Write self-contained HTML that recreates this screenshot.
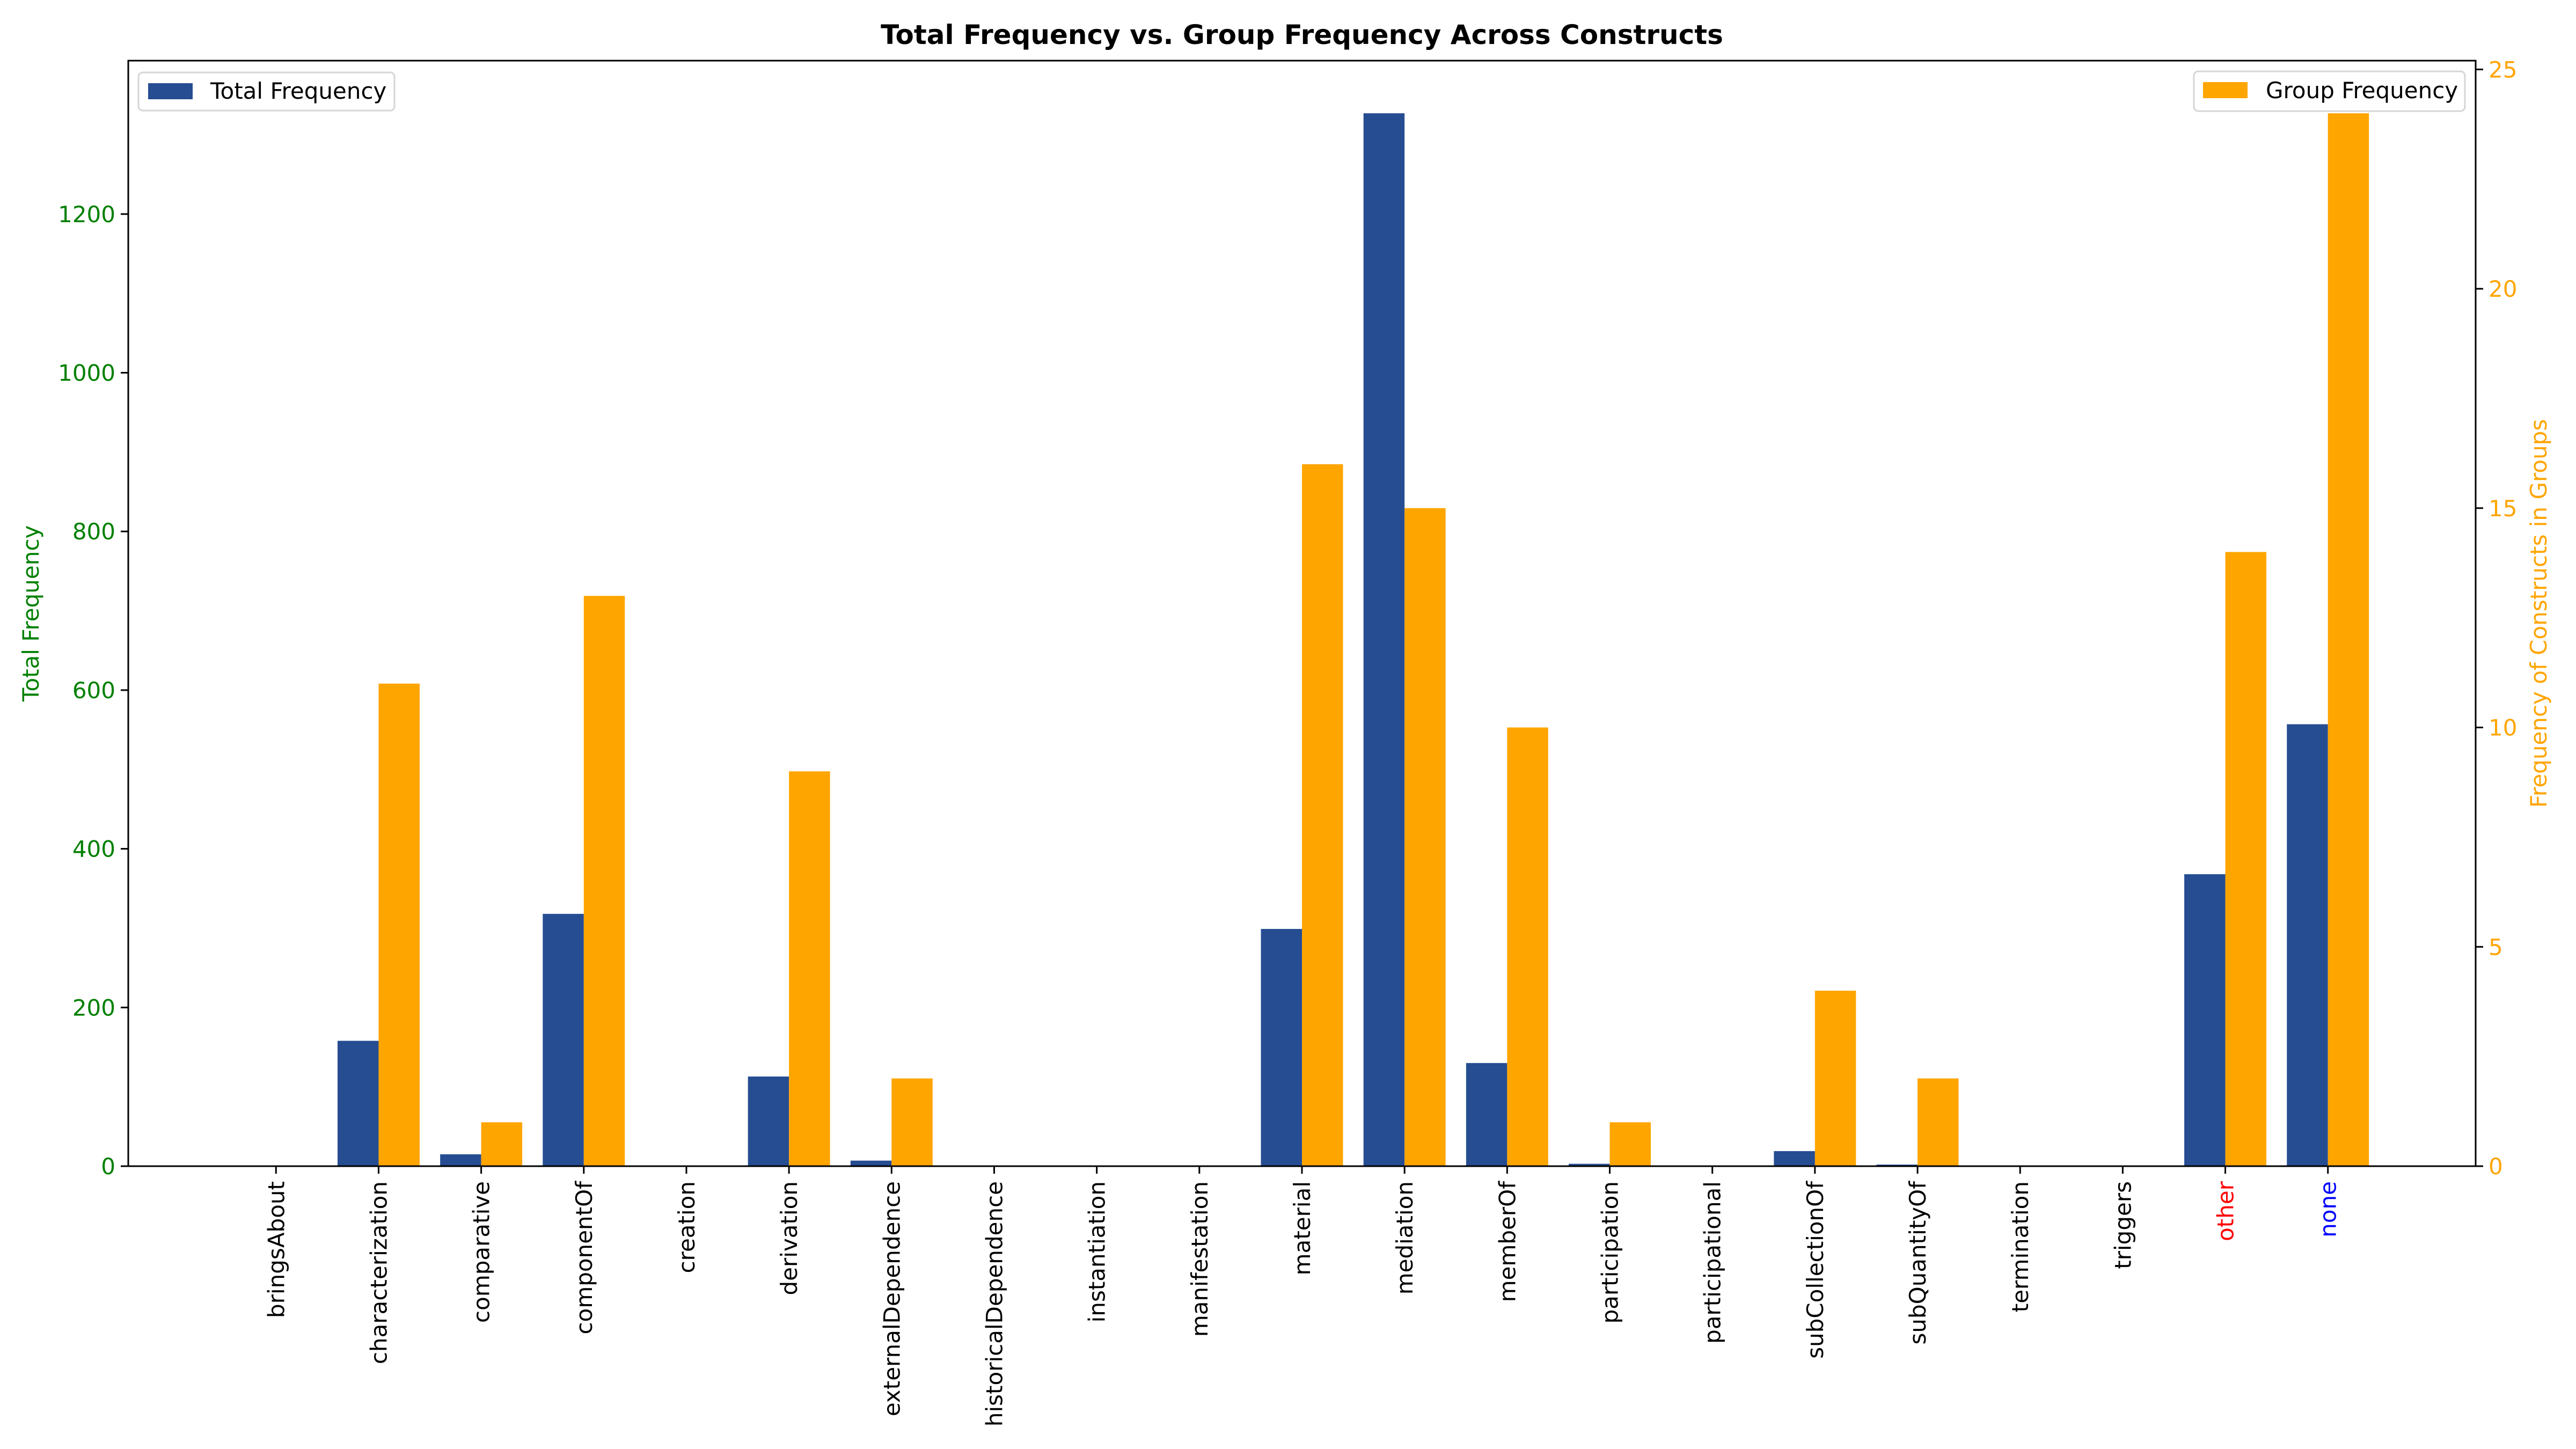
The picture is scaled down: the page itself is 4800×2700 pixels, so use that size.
<!DOCTYPE html>
<html><head><meta charset="utf-8"><style>
html,body{margin:0;padding:0;background:#fff;}
svg{display:block;font-family:"DejaVu Sans","Liberation Sans",sans-serif;}
</style></head><body>
<svg id="chart" width="4800" height="2700" viewBox="0 0 4800 2700" xmlns="http://www.w3.org/2000/svg">
<rect x="0" y="0" width="4800" height="2700" fill="#fff"/>
<text x="2426" y="82" text-anchor="middle" font-size="50" font-weight="bold">Total Frequency vs. Group Frequency Across Constructs</text>
<g id="plot"></g>
</svg>
<script>
const categories = ["bringsAbout","characterization","comparative","componentOf","creation","derivation","externalDependence","historicalDependence","instantiation","manifestation","material","mediation","memberOf","participation","participational","subCollectionOf","subQuantityOf","termination","triggers","other","none"];
const totalFreq = [0,158,15,318,0,113,7,0,0,0,299,1327,130,3,0,19,2,0,0,368,557];
const groupFreq = [0,11,1,13,0,9,2,0,0,0,16,15,10,1,0,4,2,0,0,14,24];
const leftTicks = [0,200,400,600,800,1000,1200];
const rightTicks = [0,5,10,15,20,25];
const labelColors = {other:"#ff0000", none:"#0000ff"};

const NS="http://www.w3.org/2000/svg";
const L=239,R=4613,T=113,B=2173;
const FS=42;
const xmin=-1.44,xmax=categories.length-1+1.44;
const yLmax=1393.35, yRmax=25.2;
function xs(v){return L+(v-xmin)/(xmax-xmin)*(R-L);}
function yl(v){return B-v/yLmax*(B-T);}
function yr(v){return B-v/yRmax*(B-T);}
const g=document.getElementById('plot');
function mk(tag,attrs,parent){const e=document.createElementNS(NS,tag);for(const k in attrs)e.setAttribute(k,attrs[k]);(parent||g).appendChild(e);return e;}

const w=0.4;
categories.forEach((c,i)=>{
  const b=mk('rect',{x:xs(i-w),y:yl(totalFreq[i]),width:xs(i)-xs(i-w),height:B-yl(totalFreq[i]),fill:'#264d92'});
  
  
  const o=mk('rect',{x:xs(i),y:yr(groupFreq[i]),width:xs(i+w)-xs(i),height:B-yr(groupFreq[i]),fill:'#ffa500'});
  
  
  const t=mk('line',{x1:xs(i),x2:xs(i),y1:B,y2:B+14,stroke:'#000','stroke-width':3});
  
  
  const lx=xs(i)+15, ly=B+28;
  const lab=mk('text',{x:lx,y:ly,transform:`rotate(-90 ${lx} ${ly})`,'text-anchor':'end','font-size':FS,fill:labelColors[c]||'#000'});
  lab.textContent=c;
  
  
});
leftTicks.forEach(v=>{
  const t=mk('line',{x1:L-14,x2:L,y1:yl(v),y2:yl(v),stroke:'#000','stroke-width':3});
  
  
  const lab=mk('text',{x:L-24,y:yl(v)+15,'text-anchor':'end','font-size':FS,fill:'#008000'});
  lab.textContent=v;
  
  
});
rightTicks.forEach(v=>{
  const t=mk('line',{x1:R,x2:R+14,y1:yr(v),y2:yr(v),stroke:'#000','stroke-width':3});
  
  
  const lab=mk('text',{x:R+24,y:yr(v)+15,'text-anchor':'start','font-size':FS,fill:'#ffa500'});
  lab.textContent=v;
  
  
});
const frame=mk('rect',{x:L,y:T,width:R-L,height:B-T,fill:'none',stroke:'#000','stroke-width':3});


const ylab=mk('text',{x:72,y:(T+B)/2,transform:`rotate(-90 72 ${(T+B)/2})`,'text-anchor':'middle','font-size':FS,fill:'#008000'});
ylab.textContent='Total Frequency';


const yrl=mk('text',{x:4745,y:(T+B)/2,transform:`rotate(-90 4745 ${(T+B)/2})`,'text-anchor':'middle','font-size':FS,fill:'#ffa500'});
yrl.textContent='Frequency of Constructs in Groups';



const lg1=mk('g',{});


mk('rect',{x:258,y:135,width:477,height:71,rx:8,fill:'#fff',stroke:'#d6d6d6','stroke-width':3},lg1);
mk('rect',{x:276,y:155,width:83,height:30,fill:'#264d92'},lg1);
const lt1=mk('text',{x:392,y:184,'font-size':FS,fill:'#000'},lg1);lt1.textContent='Total Frequency';
const lg2=mk('g',{});


mk('rect',{x:4088,y:133,width:505,height:74,rx:8,fill:'#fff',stroke:'#d6d6d6','stroke-width':3},lg2);
mk('rect',{x:4105,y:153,width:83,height:30,fill:'#ffa500'},lg2);
const lt2=mk('text',{x:4222,y:183,'font-size':FS,fill:'#000'},lg2);lt2.textContent='Group Frequency';
</script>
</body></html>
